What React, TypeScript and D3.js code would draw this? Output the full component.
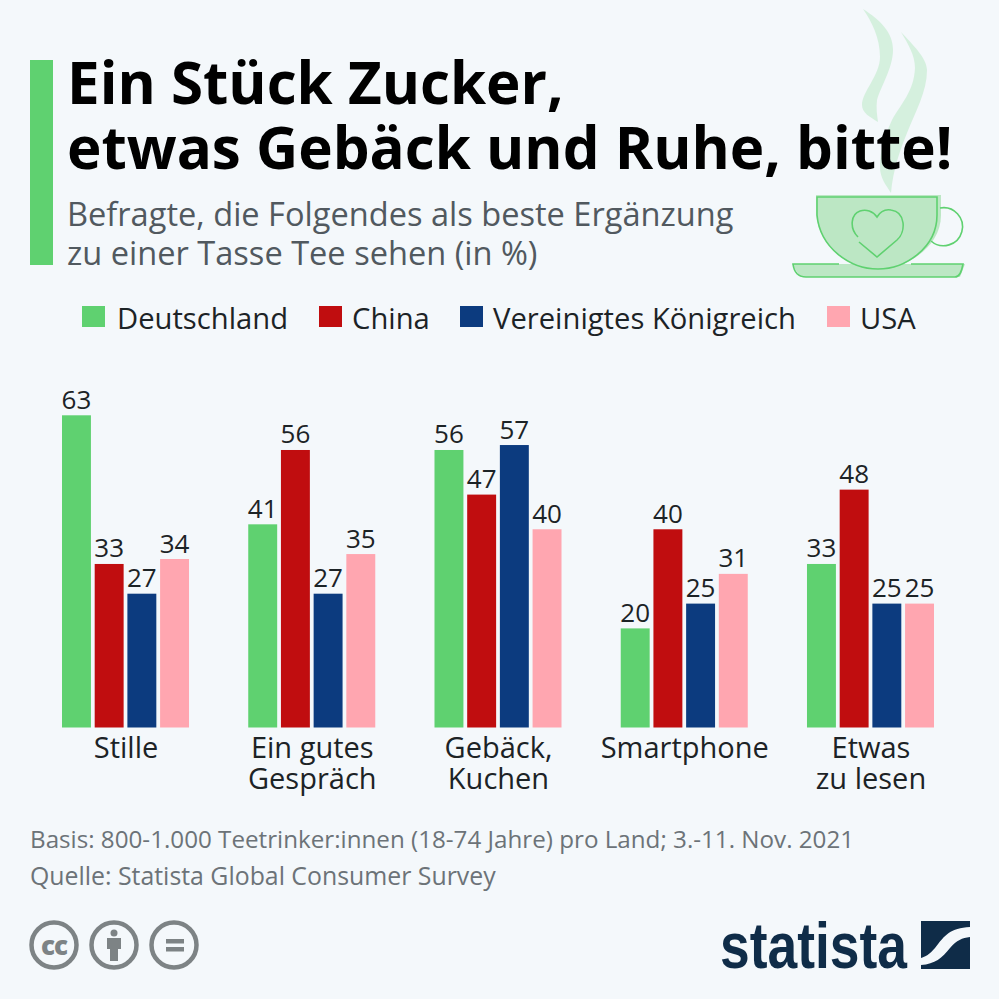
import React from "react";
import * as d3 from "d3";

const categories = ["Stille", "Ein gutes|Gespräch", "Gebäck,|Kuchen", "Smartphone", "Etwas|zu lesen"];
const seriesNames = ["Deutschland", "China", "Vereinigtes Königreich", "USA"];
const seriesColors = ["#5fd170", "#c00d0f", "#0c3b7f", "#ffa6b0"];
const deutschland = [63, 41, 56, 20, 33];
const china = [33, 56, 47, 40, 48];
const uk = [27, 27, 57, 25, 25];
const usa = [34, 35, 40, 31, 25];
const seriesValues = [deutschland, china, uk, usa];
const legendX = [82, 319, 460, 827];
const legendTextX = [117, 352, 493, 860];
const FONT = "'Open Sans', sans-serif";

export default function App() {
  const x0 = d3.scaleBand<string>().domain(categories).range([62, 934]).paddingInner(0.318);
  const x1 = d3.scaleBand<string>().domain(seriesNames).range([0, x0.bandwidth()]).paddingInner(0.115);
  const y = d3.scaleLinear().domain([0, 63]).range([727.5, 415.3]);
  return (
    <svg width={999} height={999} viewBox="0 0 999 999" style={{ position: "absolute", left: 0, top: 0, background: "#f4f8fb", fontFamily: FONT }}>
      <rect width={999} height={999} fill="#f4f8fb" />
      {/* steam */}
      <g fill="#5fd170" opacity={0.2}>
        <path d="M863,9 C880,20 893,32 893,50 C893,68 880,88 877,100 C876,108 877,115 878,122 C870,117 862,113 862,105 C862,92 880,75 880,57 C880,38 872,22 863,9 Z" />
        <path d="M901,32 C912,44 927,58 927,70 C927,92 915,112 907,133 C900,150 893,170 891,193 C886,185 880,178 880,167 C880,150 885,135 892,120 C900,105 914,92 915,68 C915,55 908,44 901,32 Z" />
      </g>
      {/* cup */}
      <path d="M816,195 H941 V215 C941,248 905,269 878,269 C850,269 820,248 816,215 Z" fill="#bce7c4" />
      <path d="M792,264 H965 L960,277 H800 Z" fill="#bce7c4" />
      <g fill="none" stroke="#5fd170" strokeWidth={1.6}>
        <path d="M817,197 H937 V215 C937,248 905,269 878,269 C850,269 820,248 817,215 Z" />
        <path d="M940,208 A19,19 0 1 1 931,241" />
        <path d="M839,264 H793 C794,272 798,277 806,277 H955 C960,277 962,270 963,264 H911" />
        <path d="M859,242 L877,257 L897,240 C906,232 906,212 891,210 C885,209 880,212 877,217 C873,211 866,209 860,211 C851,214 849,228 858,237" />
      </g>
      {/* header */}
      <rect x={30} y={60} width={23} height={205} fill="#5fd170" />
      <text x={67} y={104} fontSize={58.3} fontWeight={700} fill="#000">Ein Stück Zucker,</text>
      <text x={67} y={169} fontSize={58.3} fontWeight={700} fill="#000">etwas Gebäck und Ruhe, bitte!</text>
      <text x={67} y={226} fontSize={32.6} fill="#51595f">Befragte, die Folgendes als beste Ergänzung</text>
      <text x={67} y={265} fontSize={32.6} fill="#51595f">zu einer Tasse Tee sehen (in %)</text>
      {/* legend */}
      {seriesNames.map((s, i) => (
        <g key={s}>
          <rect x={legendX[i]} y={306} width={23} height={21} fill={seriesColors[i]} />
          <text x={legendTextX[i]} y={329} fontSize={29.2} fill="#1c2326">{s}</text>
        </g>
      ))}
      {/* bars */}
      {categories.map((c, ci) => (
        <g key={c} transform={`translate(${x0(c)},0)`}>
          {seriesNames.map((s, si) => {
            const v = seriesValues[si][ci];
            const bx = x1(s)!;
            return (
              <g key={s}>
                <rect x={bx} y={y(v)} width={x1.bandwidth()} height={y(0) - y(v)} fill={seriesColors[si]} />
                <text x={bx + x1.bandwidth() / 2} y={y(v) - 6.5} textAnchor="middle" fontSize={26} fill="#1c2326">{v}</text>
              </g>
            );
          })}
          {c.split("|").map((line, li) => (
            <text key={line} x={x0.bandwidth() / 2 + 0.5} y={758 + li * 30.5} textAnchor="middle" fontSize={29} fill="#1c2326">{line}</text>
          ))}
        </g>
      ))}
      {/* footer */}
      <text x={30} y={848} fontSize={24.2} fill="#6c7378">Basis: 800-1.000 Teetrinker:innen (18-74 Jahre) pro Land; 3.-11. Nov. 2021</text>
      <text x={30} y={884.5} fontSize={24.85} fill="#6c7378">Quelle: Statista Global Consumer Survey</text>
      {/* cc icons */}
      <g fill="none" stroke="#7d8385" strokeWidth={4.5}>
        <circle cx={54} cy={945} r={22.5} />
        <circle cx={114} cy={945} r={22.5} />
        <circle cx={174} cy={945} r={22.5} />
      </g>
      <text x={54} y={955} textAnchor="middle" fontSize={26} fontWeight={800} fill="#7d8385" letterSpacing={-1}>cc</text>
      <g fill="#7d8385">
        <circle cx={114} cy={933} r={3.5} />
        <path d="M107,938 H121 V949 H118 V961 H110 V949 H107 Z" />
        <rect x={166} y={939} width={18} height={4.5} />
        <rect x={166} y={947} width={18} height={4.5} />
      </g>
      {/* statista logo */}
      <text x={720} y={968} fontSize={65} fontWeight={700} fill="#0f2c48" fontFamily="'Liberation Sans Narrow','Liberation Sans',sans-serif" textLength={187} lengthAdjust="spacingAndGlyphs">statista</text>
      <path d="M921,921 H970 V927 C950,928 945,935 935,948 C930,954 925,957 921,958 Z" fill="#0f2c48" />
      <path d="M970,937 V969 H921 V965 C935,964 942,958 950,948 C957,940 962,938 970,937 Z" fill="#0f2c48" />
    </svg>
  );
}
